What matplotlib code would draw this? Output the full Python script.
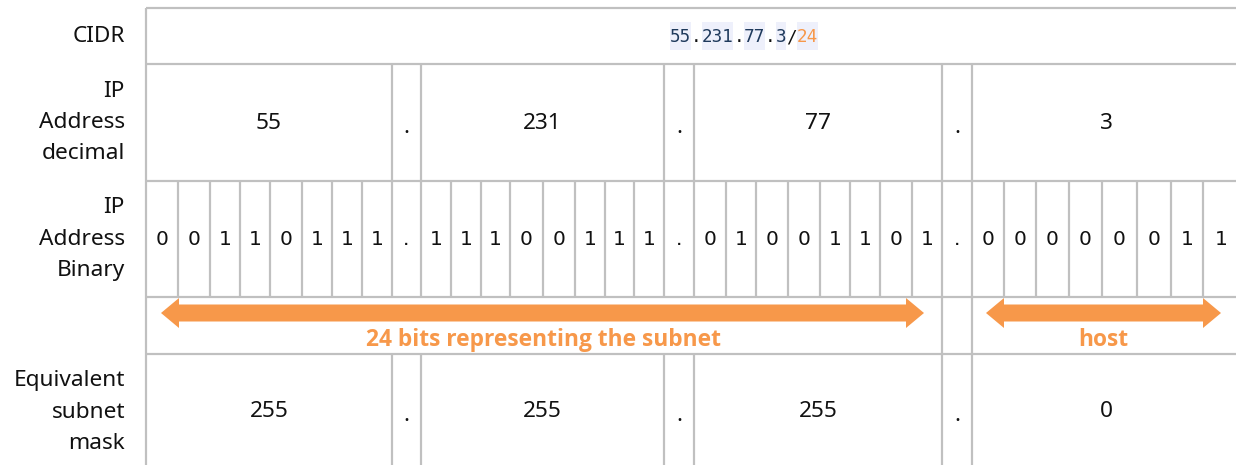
import matplotlib.pyplot as plt
import matplotlib.patches as mpatches

# data
row_labels = ["CIDR", "IP\nAddress\ndecimal", "IP\nAddress\nBinary", "", "Equivalent\nsubnet\nmask"]
octets = [55, 231, 77, 3]
prefix = 24
mask = [255, 255, 255, 0]
subnet_label = "24 bits representing the subnet"
host_label = "host"

# layout (pixels)
W, H = 1236, 465
row_edges = [8, 64, 181, 297, 354, 470]
bit_edges = [146, 178, 210, 240, 270, 302, 332, 362, 392,
             421, 451, 481, 510, 543, 575, 605, 634, 664,
             694, 726, 756, 788, 820, 850, 880, 912, 942,
             972, 1004, 1036, 1069, 1102, 1137, 1171, 1203, 1240]
# each octet = 8 bit columns, followed by 1 dot column
GRID = "#c0c0c0"
ORANGE = "#f7984a"
NAVY = "#1f3a5c"
LABEL_FONT = ["Noto Sans", "DejaVu Sans"]
BOLD_FONT = ["Open Sans", "DejaVu Sans"]
FS = 16.3

fig = plt.figure(figsize=(W / 100, H / 100), dpi=100)
ax = fig.add_axes([0, 0, 1, 1])
ax.set_xlim(0, W)
ax.set_ylim(H, 0)
ax.axis("off")

def oct_span(k):
    i = k * 9
    return bit_edges[i], bit_edges[i + 8]

def dot_span(k):
    i = k * 9 + 8
    return bit_edges[i], bit_edges[i + 1]

def vline(x, y0, y1):
    ax.plot([x, x], [y0, y1], color=GRID, lw=1.6, solid_capstyle="butt")

def hline(y, x0=bit_edges[0], x1=W + 5):
    ax.plot([x0, x1], [y, y], color=GRID, lw=1.6, solid_capstyle="butt")

# horizontal lines
for y in row_edges[:-1]:
    hline(y)
vline(bit_edges[0], row_edges[0], row_edges[-1])

# row labels
for lab, (y0, y1) in zip(row_labels, zip(row_edges[:-1], row_edges[1:])):
    if lab:
        ax.text(125, (y0 + y1) / 2, lab, ha="right", va="center", fontsize=FS,
                family=LABEL_FONT, linespacing=1.63, color="#111111")

# decimal & mask rows
for r, vals in ((1, octets), (4, mask)):
    y0, y1 = row_edges[r], row_edges[r + 1]
    if r == 4:
        y1 = H + 2
    yc = (y0 + y1) / 2 + 1
    for k, v in enumerate(vals):
        a, b = oct_span(k)
        ax.text((a + b) / 2, yc, str(v), ha="center", va="center", fontsize=FS,
                family=LABEL_FONT, color="#111111")
        if k < 3:
            da, db = dot_span(k)
            vline(da, y0, y1)
            vline(db, y0, y1)
            ax.text((da + db) / 2, yc + 4, ".", ha="center", va="center",
                    fontsize=FS, family=LABEL_FONT, color="#111111")

# binary row
y0, y1 = row_edges[2], row_edges[3]
bits = "".join(format(v, "08b") for v in octets)
for x in bit_edges[1:-1]:
    vline(x, y0, y1)
for k in range(4):
    for j in range(8):
        i = k * 9 + j
        ax.text((bit_edges[i] + bit_edges[i + 1]) / 2, (y0 + y1) / 2, bits[k * 8 + j],
                ha="center", va="center", fontsize=14.5, family="DejaVu Sans", color="#111111")
    if k < 3:
        da, db = dot_span(k)
        ax.text((da + db) / 2, (y0 + y1) / 2, ".", ha="center", va="center",
                fontsize=14.5, family="DejaVu Sans", color="#111111")

# arrow row
y0, y1 = row_edges[3], row_edges[4]
da, db = dot_span(2)
vline(da, y0, y1)
vline(db, y0, y1)

def double_arrow(x0, x1, yc, shaft=8.5, head=15, hl=18):
    pts = [(x0, yc), (x0 + hl, yc - head), (x0 + hl, yc - shaft), (x1 - hl, yc - shaft),
           (x1 - hl, yc - head), (x1, yc), (x1 - hl, yc + head), (x1 - hl, yc + shaft),
           (x0 + hl, yc + shaft), (x0 + hl, yc + head)]
    ax.add_patch(mpatches.Polygon(pts, closed=True, color=ORANGE, lw=0))

ya = y0 + 16
sub_end = bit_edges[prefix // 8 * 9 - 2]
double_arrow(bit_edges[0] + 15, sub_end + 12, ya)
double_arrow(db + 14, W - 15, ya)
ax.text((bit_edges[0] + da) / 2, y0 + 43, subnet_label, ha="center", va="center",
        fontsize=16.4, fontweight="bold", family=BOLD_FONT, color=ORANGE)
ax.text(1103, y0 + 43, host_label, ha="center", va="center",
        fontsize=16.4, fontweight="bold", family=BOLD_FONT, color=ORANGE)

# CIDR row
parts = [str(v) for v in octets]
pieces = []
for k, p in enumerate(parts):
    pieces.append((p, NAVY, True))
    if k < 3:
        pieces.append((".", "#111111", False))
pieces.append(("/", "#111111", False))
pieces.append((str(prefix), ORANGE, True))
fs = 12.7
cw = fs * 0.602 * 100 / 72
total = sum(len(p) for p, _, _ in pieces)
x = 744 - total * cw / 2
yc = (row_edges[0] + row_edges[1]) / 2
for p, col, hl in pieces:
    w = len(p) * cw
    if hl:
        ax.add_patch(mpatches.Rectangle((x, yc - 14), w, 28, color="#eef0fb", lw=0))
    ax.text(x, yc + 1, p, ha="left", va="center", fontsize=fs,
            family="DejaVu Sans Mono", color=col)
    x += w

fig.savefig("out.png", dpi=100)
